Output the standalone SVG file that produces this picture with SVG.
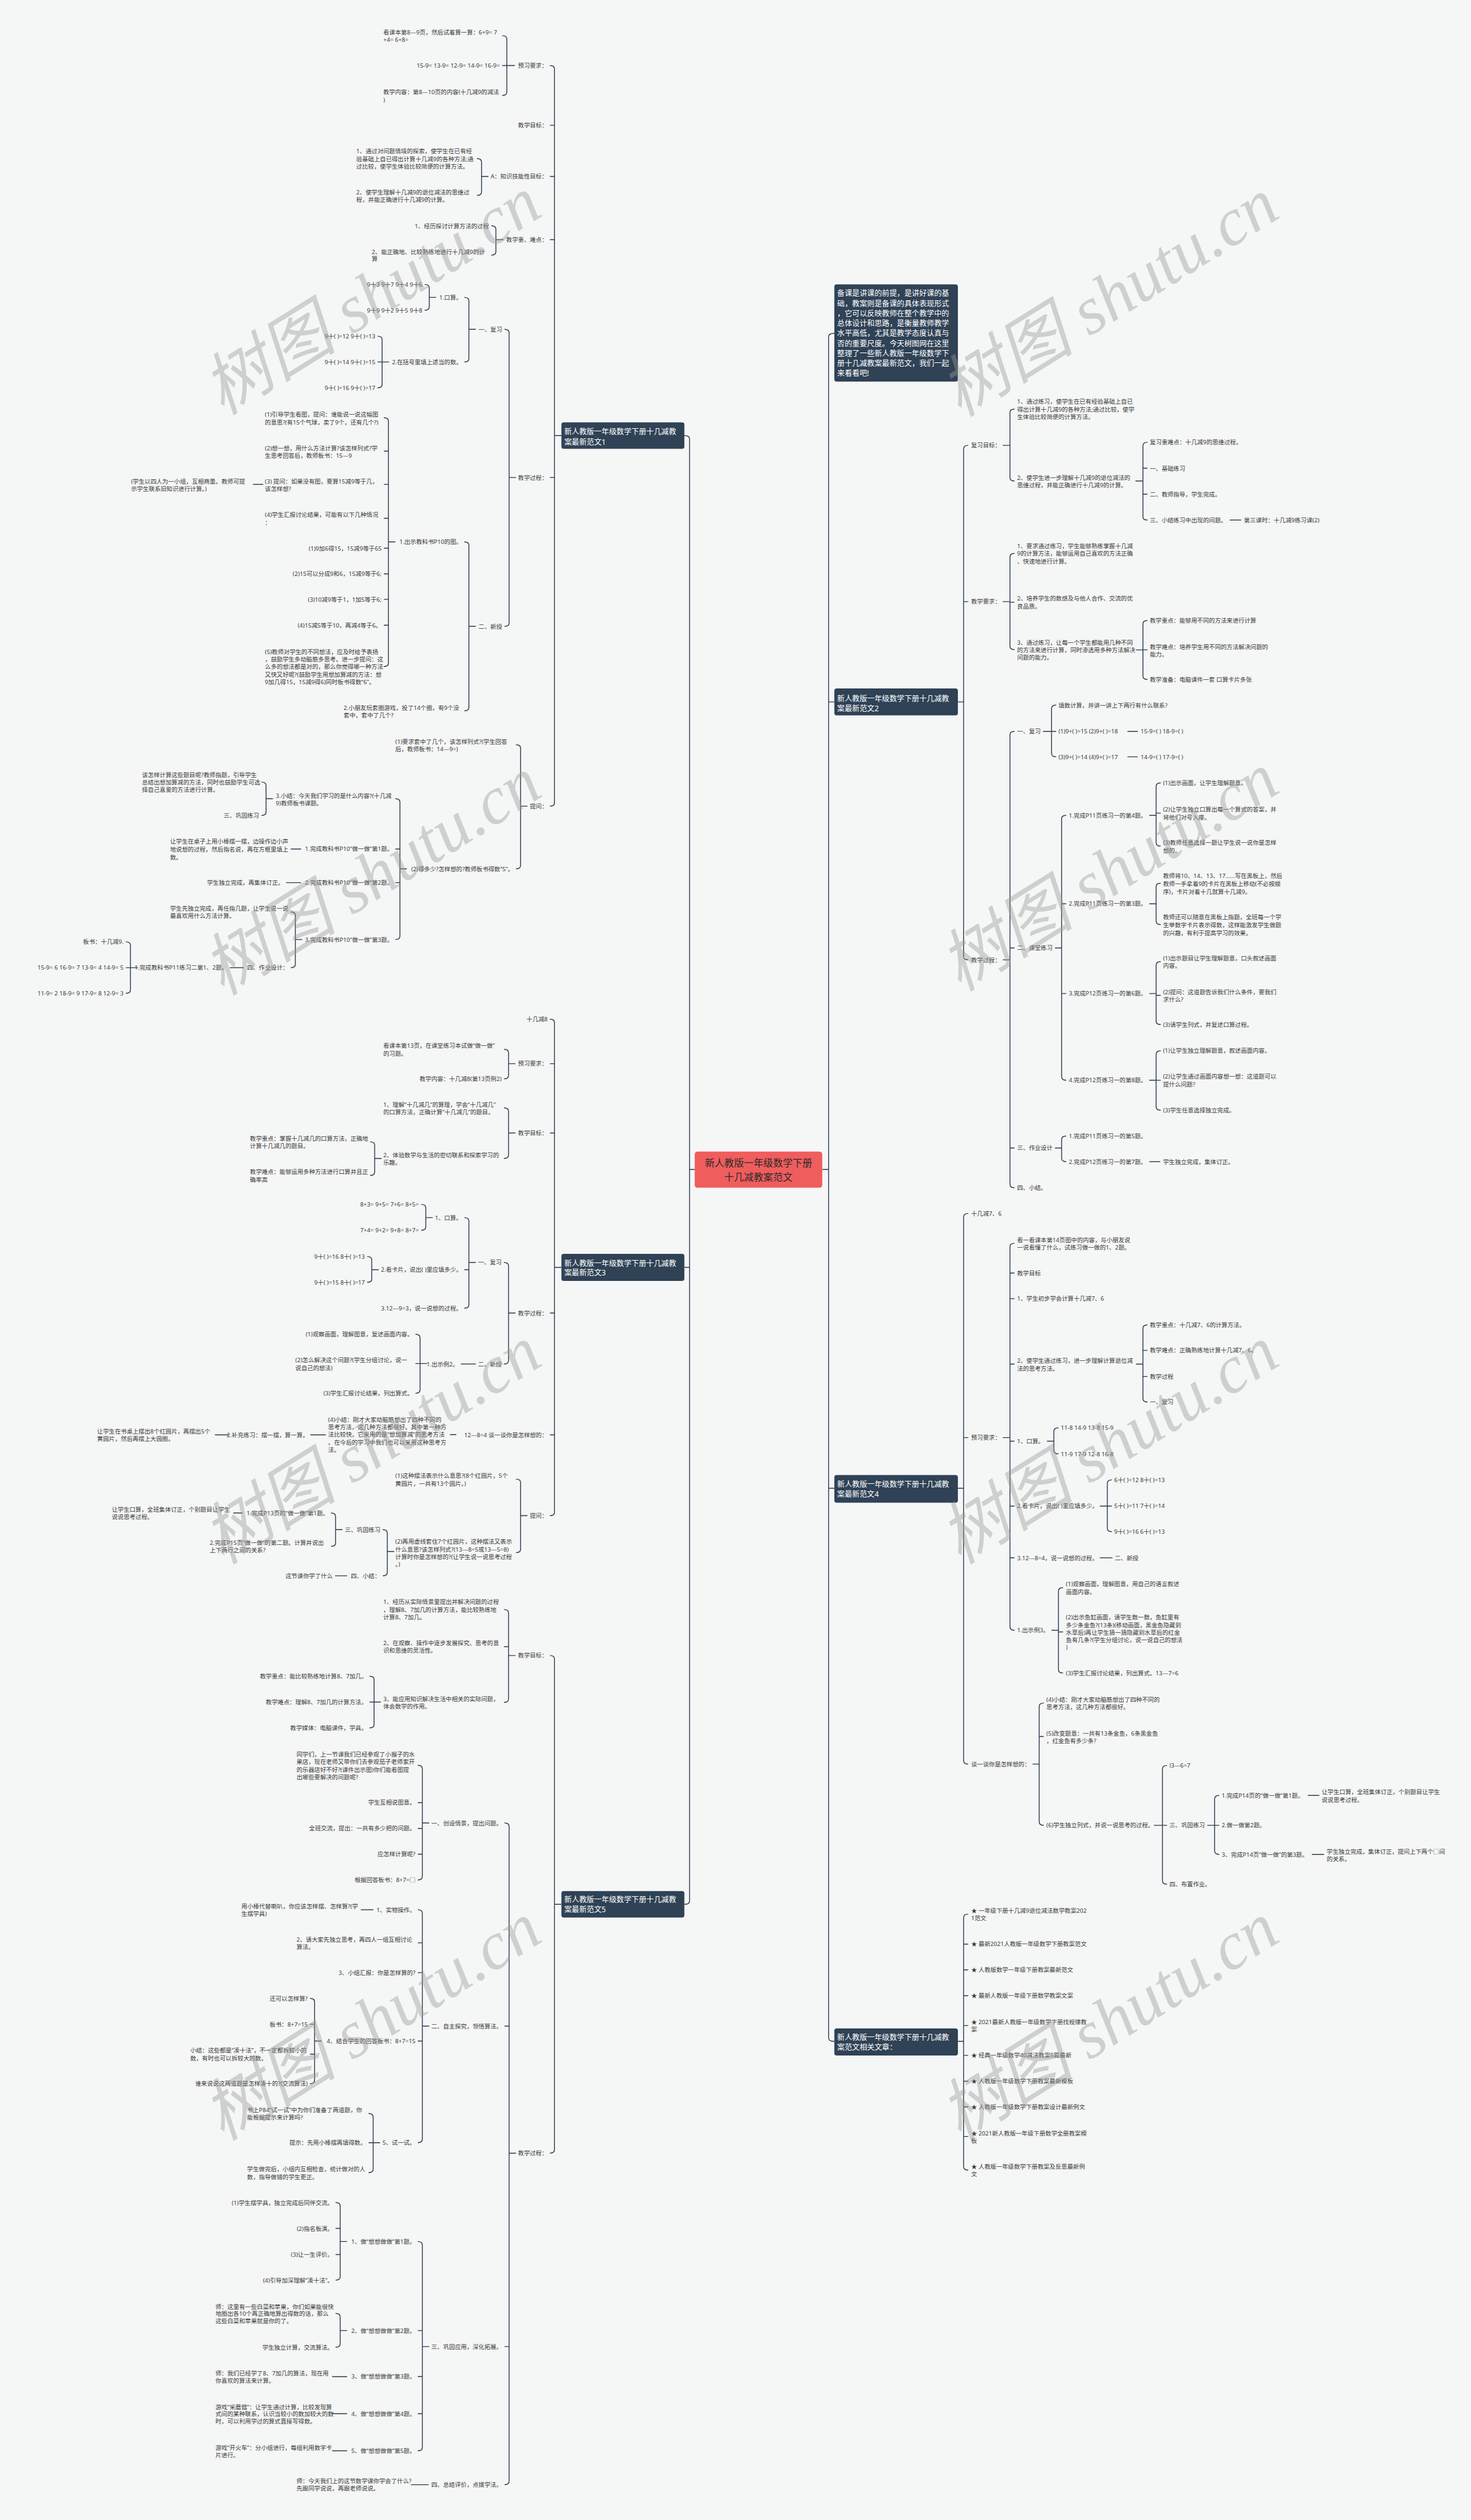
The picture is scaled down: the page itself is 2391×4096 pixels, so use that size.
<svg xmlns="http://www.w3.org/2000/svg" width="2391" height="4096" viewBox="0 0 2391 4096">
<style>
.t{font-family:"Noto Sans","Noto Sans CJK SC",sans-serif;font-size:10.3px;fill:#3a3a3a;dominant-baseline:central}
.e{text-anchor:end}
.b{fill:#2f4256}
.bt{font-family:"Noto Sans","Noto Sans CJK SC",sans-serif;font-size:13px;fill:#fff;dominant-baseline:central}
.ct{font-family:"Noto Sans","Noto Sans CJK SC",sans-serif;font-size:17px;fill:#2a2a2a;text-anchor:middle;dominant-baseline:central}
.l{fill:none;stroke:#2c3d4f;stroke-width:1.5}
.w{font-family:"Liberation Serif","Noto Sans CJK SC",serif;font-style:italic;font-size:118px;fill:#9a9a9a;opacity:.42;text-anchor:middle;dominant-baseline:central}
</style>
<rect width="2391" height="4096" fill="#f5f6f6"/>
<g transform="scale(0.934)">
<g id="connectors" class="l">
<path d="M1191 758 Q1200 758 1200 764 V3308 Q1200 3314 1191 3314 M1200 2205.5 H1191 M1200 2035 H1209"/>
<path d="M1452 580 Q1442 580 1442 586 V3546.5 Q1442 3552.5 1452 3552.5 M1442 1221.5 H1452 M1442 2590 H1452 M1442 2035 H1431"/>
<path d="M957 114 Q965 114 965 120 V1397 Q965 1403 957 1403 M965 218 H957 M965 307 H957 M965 417 H957 M965 831 H957 M965 758 H977"/>
<path d="M874 62 Q882 62 882 68 V160 Q882 166 874 166 M874 114 H896"/>
<path d="M830 276 Q838 276 838 282 V334 Q838 340 830 340 M838 307 H850"/>
<path d="M855 393 Q863 393 863 399 V438 Q863 444 855 444 M863 417 H876"/>
<path d="M878 573 Q886 573 886 579 V1084 Q886 1090 878 1090 M886 831 H898"/>
<path d="M808 517.5 Q816 517.5 816 523.5 V624 Q816 630 808 630 M816 573 H828"/>
<path d="M739 495 Q747 495 747 501 V534 Q747 540 739 540 M747 517.5 H759"/>
<path d="M657 585 Q665 585 665 591 V669 Q665 675 657 675 M657 630 H677"/>
<path d="M808 943 Q816 943 816 949 V1231 Q816 1237 808 1237 M816 1090 H828"/>
<path d="M668 727 Q676 727 676 733 V1154 Q676 1160 668 1160 M676 785 H668 M676 843 H668 M676 902 H668 M676 954 H668 M676 998.6 H668 M676 1043 H668 M676 1088 H668 M676 943 H688"/>
<path d="M440 843 H458"/>
<path d="M898 1296 Q906 1296 906 1302 V1506 Q906 1512 898 1512 M906 1403 H918"/>
<path d="M688 1390 Q696 1390 696 1396 V1629 Q696 1635 688 1635 M696 1477.5 H688 M696 1536 H688 M696 1512 H708"/>
<path d="M455 1361 Q463 1361 463 1367 V1413 Q463 1419 455 1419 M463 1390 H475"/>
<path d="M506 1477.5 H524 M498 1536 H524"/>
<path d="M506 1587 Q514 1587 514 1593 V1678 Q514 1684 506 1684 M514 1635 H526"/>
<path d="M400 1684 H424"/>
<path d="M219 1639 Q227 1639 227 1645 V1722.6 Q227 1728.6 219 1728.6 M219 1684 H240"/>
<path d="M957 1773.5 Q965 1773.5 965 1779.5 V2631.6 Q965 2637.6 957 2637.6 M965 1851 H957 M965 1971.6 H957 M965 2285 H957 M965 2497 H957 M965 2205.5 H977"/>
<path d="M877 1826 Q885 1826 885 1832 V1871.5 Q885 1877.5 877 1877.5 M885 1851 H897"/>
<path d="M877 1928 Q885 1928 885 1934 V2010 Q885 2016 877 2016 M885 1971.6 H897"/>
<path d="M644 1987 Q652 1987 652 1993 V2039.5 Q652 2045.5 644 2045.5 M652 2016 H664"/>
<path d="M877 2197 Q885 2197 885 2203 V2367.7 Q885 2373.7 877 2373.7 M885 2285 H897"/>
<path d="M808 2119 Q816 2119 816 2125 V2270.5 Q816 2276.5 808 2276.5 M816 2209.6 H808 M816 2197 H828"/>
<path d="M733 2096 Q741 2096 741 2102 V2135 Q741 2141 733 2141 M741 2119 H753"/>
<path d="M639 2186.7 Q647 2186.7 647 2192.7 V2225.6 Q647 2231.6 639 2231.6 M647 2209.6 H659"/>
<path d="M802 2373.7 H828"/>
<path d="M723 2322 Q731 2322 731 2328 V2418.7 Q731 2424.7 723 2424.7 M723 2373 H743"/>
<path d="M783 2496.5 H794 M540 2497 H567 M374 2497 H398"/>
<path d="M898 2574 Q906 2574 906 2580 V2696 Q906 2702 898 2702 M906 2637.6 H918"/>
<path d="M666 2662 Q674 2662 674 2668 V2736.4 Q674 2742.4 666 2742.4 M674 2700 H686"/>
<path d="M576 2633 Q584 2633 584 2639 V2685 Q584 2691 576 2691 M584 2662 H596"/>
<path d="M406 2633 H422 M583 2742.4 H604"/>
<path d="M957 2881 Q965 2881 965 2887 V3741 Q965 3747 957 3747 M965 3314 H977"/>
<path d="M877 2801 Q885 2801 885 2807 V2956.6 Q885 2962.6 877 2962.6 M885 2865.6 H877 M885 2881 H897"/>
<path d="M643 2917 Q651 2917 651 2923 V3001 Q651 3007 643 3007 M643 2962 H663"/>
<path d="M878 3172.4 Q886 3172.4 886 3178.4 V4318 Q886 4324 878 4324 M886 3526 H878 M886 4083.6 H878 M886 3747 H898"/>
<path d="M727 3072 Q735 3072 735 3078 V3265.6 Q735 3271.6 727 3271.6 M735 3137 H727 M735 3182 H727 M735 3226.7 H727 M735 3172.4 H747"/>
<path d="M727 3323.5 Q735 3323.5 735 3329.5 V3722.8 Q735 3728.8 727 3728.8 M735 3381 H727 M735 3433 H727 M735 3552 H727 M735 3526 H747"/>
<path d="M628 3323.5 H650"/>
<path d="M539.5 3477.8 Q547.5 3477.8 547.5 3483.8 V3620 Q547.5 3626 539.5 3626 M547.5 3522.6 H539.5 M547.5 3574.6 H539.5 M547.5 3552 H559.5"/>
<path d="M641.4 3678 Q649.4 3678 649.4 3684 V3775 Q649.4 3781 641.4 3781 M641.4 3728.8 H661.4"/>
<path d="M727 3900.8 Q735 3900.8 735 3906.8 V4259 Q735 4265 727 4265 M735 4055.8 H727 M735 4135.7 H727 M735 4200.5 H727 M735 4083.6 H747"/>
<path d="M584 3833 Q592 3833 592 3839 V3962 Q592 3968 584 3968 M592 3878 H584 M592 3923.5 H584 M592 3900.8 H604"/>
<path d="M584 4026 Q592 4026 592 4032 V4078.8 Q592 4084.8 584 4084.8 M592 4055.8 H604"/>
<path d="M578 4136 H604 M578 4200.5 H604 M578 4265 H604 M715 4324 H746"/>
<path d="M1685 775 Q1677 775 1677 781 V1664.4 Q1677 1670.4 1685 1670.4 M1677 1047 H1685 M1677 1221.5 H1667"/>
<path d="M1765.6 712 Q1757.6 712 1757.6 718 V831 Q1757.6 837 1765.6 837 M1757.6 775 H1745"/>
<path d="M1997 769.7 Q1989 769.7 1989 775.7 V899 Q1989 905 1997 905 M1989 814.8 H1997 M1989 860 H1997 M1989 837 H1976"/>
<path d="M2140 905 H2160"/>
<path d="M1765.6 963 Q1757.6 963 1757.6 969 V1124.5 Q1757.6 1130.5 1765.6 1130.5 M1757.6 1048 H1765.6 M1757.6 1047 H1745"/>
<path d="M1997 1079.7 Q1989 1079.7 1989 1085.7 V1176.5 Q1989 1182.5 1997 1182.5 M1977 1131 H1997"/>
<path d="M1765.6 1272.7 Q1757.6 1272.7 1757.6 1278.7 V2061 Q1757.6 2067 1765.6 2067 M1757.6 1649.6 H1765.6 M1757.6 1997.8 H1765.6 M1757.6 1670.4 H1745"/>
<path d="M1838 1227 Q1830 1227 1830 1233 V1311 Q1830 1317 1838 1317 M1815 1272.7 H1838"/>
<path d="M1962 1272.7 H1980 M1962 1317 H1980"/>
<path d="M1855.5 1418.9 Q1847.5 1418.9 1847.5 1424.9 V1873.8 Q1847.5 1879.8 1855.5 1879.8 M1847.5 1572.8 H1855.5 M1847.5 1729 H1855.5 M1847.5 1649.6 H1836"/>
<path d="M2020 1362.5 Q2012 1362.5 2012 1368.5 V1466.6 Q2012 1472.6 2020 1472.6 M2012 1415 H2020 M2012 1418.9 H2000"/>
<path d="M2020 1537 Q2012 1537 2012 1543 V1603 Q2012 1609 2020 1609 M2012 1572.8 H2000"/>
<path d="M2020 1673.5 Q2012 1673.5 2012 1679.5 V1777 Q2012 1783 2020 1783 M2012 1732 H2020 M2012 1729 H2000"/>
<path d="M2020 1828.7 Q2012 1828.7 2012 1834.7 V1926 Q2012 1932 2020 1932 M2012 1880 H2020 M2012 1879.8 H2000"/>
<path d="M1855.5 1977 Q1847.5 1977 1847.5 1983 V2015.6 Q1847.5 2021.6 1855.5 2021.6 M1847.5 1997.8 H1836"/>
<path d="M2000 2021.6 H2019"/>
<path d="M1685 2111.8 Q1677 2111.8 1677 2117.8 V3064 Q1677 3070 1685 3070 M1677 2501.7 H1685 M1677 2590 H1667"/>
<path d="M1765.6 2163.7 Q1757.6 2163.7 1757.6 2169.7 V2831 Q1757.6 2837 1765.6 2837 M1757.6 2215.5 H1765.6 M1757.6 2260 H1765.6 M1757.6 2374 H1765.6 M1757.6 2508 H1765.6 M1757.6 2621 H1765.6 M1757.6 2711 H1765.6 M1757.6 2501.7 H1745"/>
<path d="M1997 2305.7 Q1989 2305.7 1989 2311.7 V2434 Q1989 2440 1997 2440 M1989 2350 H1997 M1989 2395.5 H1997 M1989 2374 H1977"/>
<path d="M1842 2484.8 Q1834 2484.8 1834 2490.8 V2524 Q1834 2530 1842 2530 M1834 2508 H1822"/>
<path d="M1935 2575.4 Q1927 2575.4 1927 2581.4 V2659.6 Q1927 2665.6 1935 2665.6 M1914 2621 H1935"/>
<path d="M1914 2711 H1936"/>
<path d="M1850 2762.8 Q1842 2762.8 1842 2768.8 V2905.5 Q1842 2911.5 1850 2911.5 M1842 2840 H1850 M1842 2837 H1830"/>
<path d="M1816.5 2963.7 Q1808.5 2963.7 1808.5 2969.7 V3170.5 Q1808.5 3176.5 1816.5 3176.5 M1808.5 3022 H1816.5 M1808.5 3070 H1797"/>
<path d="M2031 3072.4 Q2023 3072.4 2023 3078.4 V3273 Q2023 3279 2031 3279 M2008 3176.5 H2031"/>
<path d="M2121.8 3124.4 Q2113.8 3124.4 2113.8 3130.4 V3221.2 Q2113.8 3227.2 2121.8 3227.2 M2101 3176.5 H2121.8"/>
<path d="M2276 3124.4 H2296 M2283 3227.2 H2304"/>
<path d="M1685 3331 Q1677 3331 1677 3337 V3770.5 Q1677 3776.5 1685 3776.5 M1677 3383.3 H1685 M1677 3428 H1685 M1677 3473 H1685 M1677 3525 H1685 M1677 3577 H1685 M1677 3621.8 H1685 M1677 3666.5 H1685 M1677 3718 H1685 M1677 3552.5 H1667"/>
</g>
<g id="center"><rect x="1209" y="2004" width="222" height="63" rx="5" fill="#f05d5d"/><text class="ct"><tspan x="1320" y="2024">新人教版一年级数学下册</tspan><tspan x="1320" y="2048">十几减教案范文</tspan></text></g>
<g id="intro"><rect class="b" x="1452" y="495" width="215" height="169" rx="4"/><text class="bt"><tspan x="1457" y="510">备课是讲课的前提，是讲好课的基</tspan><tspan x="1457" y="527.4">础，教案则是备课的具体表现形式</tspan><tspan x="1457" y="544.8">，它可以反映教师在整个教学中的</tspan><tspan x="1457" y="562.2">总体设计和思路，是衡量教师教学</tspan><tspan x="1457" y="579.6">水平高低，尤其是教学态度认真与</tspan><tspan x="1457" y="597">否的重要尺度。今天树图网在这里</tspan><tspan x="1457" y="614.4">整理了一些新人教版一年级数学下</tspan><tspan x="1457" y="631.8">册十几减教案最新范文，我们一起</tspan><tspan x="1457" y="649.2">来看看吧!</tspan></text></g>
<g id="r1"><rect class="b" x="977" y="735" width="214" height="46" rx="4"/><text class="bt"><tspan x="982" y="750.4">新人教版一年级数学下册十几减教</tspan><tspan x="982" y="768.8">案最新范文1</tspan></text></g>
<g id="a1"><text class="t e" x="953" y="114">预习要求：</text></g>
<g id="a2"><text class="t"><tspan x="667" y="56">看课本第8—9页，然后试着算一算：6+9= 7</tspan><tspan x="667" y="69">+4= 6+8=</tspan></text></g>
<g id="a3"><text class="t e" x="870" y="114">15-9= 13-9= 12-9= 14-9= 16-9=</text></g>
<g id="a4"><text class="t"><tspan x="667" y="160">教学内容：第8—10页的内容(十几减9的减法</tspan><tspan x="667" y="173">)</tspan></text></g>
<g id="a5"><text class="t e" x="953" y="218">教学目标：</text></g>
<g id="a6"><text class="t e" x="953" y="307">A：知识技能性目标：</text></g>
<g id="a7"><text class="t"><tspan x="620" y="262">1、通过对问题情境的探索，使学生在已有经</tspan><tspan x="620" y="276">验基础上自已得出计算十几减9的各种方法;通</tspan><tspan x="620" y="289">过比较，使学生体验比较简便的计算方法。</tspan></text></g>
<g id="a8"><text class="t"><tspan x="620" y="334">2、使学生理解十几减9的退位减法的思维过</tspan><tspan x="620" y="347">程，并能正确进行十几减9的计算。</tspan></text></g>
<g id="a9"><text class="t e" x="953" y="417">教学重、难点：</text></g>
<g id="a10"><text class="t e" x="851" y="393">1、经历探讨计算方法的过程</text></g>
<g id="a11"><text class="t"><tspan x="647" y="438">2、能正确地、比较熟练地进行十几减9的计</tspan><tspan x="647" y="450">算</tspan></text></g>
<g id="a12"><text class="t e" x="953" y="831">教学过程：</text></g>
<g id="a13"><text class="t e" x="874" y="573">一、复习</text></g>
<g id="a14"><text class="t e" x="804" y="517.5">1.口算。</text></g>
<g id="a15"><text class="t e" x="735" y="495">9十3 9十7 9十4 9十6</text></g>
<g id="a16"><text class="t e" x="735" y="540">9十9 9十2 9十5 9十8</text></g>
<g id="a17"><text class="t e" x="804" y="630">2.在括号里填上适当的数。</text></g>
<g id="a18"><text class="t e" x="653" y="585">9十( )=12 9十( )=13</text></g>
<g id="a19"><text class="t e" x="653" y="630">9十( )=14 9十( )=15</text></g>
<g id="a20"><text class="t e" x="653" y="675">9十( )=16 9十( )=17</text></g>
<g id="a21"><text class="t e" x="874" y="1090">二、新授</text></g>
<g id="a22"><text class="t e" x="804" y="943">1.出示教科书P10的图。</text></g>
<g id="a23"><text class="t"><tspan x="461" y="720.6">(1)引导学生看图，提问：谁能说一说这幅图</tspan><tspan x="461" y="734">的意思?(有15个气球，卖了9个，还有几个?)</tspan></text></g>
<g id="a24"><text class="t"><tspan x="461" y="779">(2)想一想，用什么方法计算?该怎样列式?学</tspan><tspan x="461" y="792">生思考回答后，教师板书：15—9</tspan></text></g>
<g id="a25"><text class="t"><tspan x="461" y="837">(3) 提问：如果没有图，要算15减9等于几，</tspan><tspan x="461" y="850">该怎样想?</tspan></text></g>
<g id="a26"><text class="t"><tspan x="228" y="837">(学生以四人为一小组，互相商量。教师可提</tspan><tspan x="228" y="850">示学生联系旧知识进行计算。)</tspan></text></g>
<g id="a27"><text class="t"><tspan x="461" y="895">(4)学生汇报讨论结果，可能有以下几种情况</tspan><tspan x="461" y="909">：</tspan></text></g>
<g id="a28"><text class="t e" x="664" y="954">(1)9加6得15，15减9等于65</text></g>
<g id="a29"><text class="t e" x="664" y="998.6">(2)15可以分成9和6，15减9等于6;</text></g>
<g id="a30"><text class="t e" x="664" y="1043">(3)10减9等于1，1加5等于6;</text></g>
<g id="a31"><text class="t e" x="664" y="1088">(4)15减5等于10，再减4等于6。</text></g>
<g id="a32"><text class="t"><tspan x="461" y="1134">(5)教师对学生的不同想法，应及时给予表扬</tspan><tspan x="461" y="1147">，鼓励学生多动脑筋多思考。进一步提问：这</tspan><tspan x="461" y="1160">么多的想法都是对的，那么你觉得哪一种方法</tspan><tspan x="461" y="1173">又快又好呢?(鼓励学生用想加算减的方法：想</tspan><tspan x="461" y="1186">9加几得15，15减9得6)同时板书得数“6”。</tspan></text></g>
<g id="a33"><text class="t"><tspan x="598" y="1231">2.小朋友玩套圈游戏，投了14个圈，有9个没</tspan><tspan x="598" y="1244">套中，套中了几个?</tspan></text></g>
<g id="a34"><text class="t e" x="953" y="1403">提问：</text></g>
<g id="a35"><text class="t"><tspan x="688" y="1290">(1)要求套中了几个，该怎样列式?(学生回答</tspan><tspan x="688" y="1303">后，教师板书：14—9=)</tspan></text></g>
<g id="a36"><text class="t e" x="894" y="1512">(2)得多少?怎样想的?教师板书得数“5”。</text></g>
<g id="a37"><text class="t"><tspan x="480" y="1384">3.小结：今天我们学习的是什么内容?(十几减</tspan><tspan x="480" y="1397">9)教师板书课题。</tspan></text></g>
<g id="a38"><text class="t"><tspan x="247" y="1348">该怎样计算这些题目呢?教师指题，引导学生</tspan><tspan x="247" y="1361">总结出想加算减的方法，同时也鼓励学生可选</tspan><tspan x="247" y="1374">择自己喜爱的方法进行计算。</tspan></text></g>
<g id="a39"><text class="t e" x="451" y="1419">三、巩固练习</text></g>
<g id="a40"><text class="t e" x="684" y="1477.5">1.完成教科书P10“做一做”第1题。</text></g>
<g id="a41"><text class="t"><tspan x="296" y="1464">让学生在桌子上用小棒摆一摆，边操作边小声</tspan><tspan x="296" y="1477.5">地说想的过程，然后指名说，再在方框里填上</tspan><tspan x="296" y="1491">数。</tspan></text></g>
<g id="a42"><text class="t e" x="684" y="1536">2.完成教科书P10“做一做”第2题。</text></g>
<g id="a43"><text class="t e" x="494" y="1536">学生独立完成，再集体订正。</text></g>
<g id="a44"><text class="t e" x="684" y="1635">3.完成教科书P10“做一做”第3题。</text></g>
<g id="a45"><text class="t"><tspan x="296" y="1580">学生先独立完成，再任指几题，让学生说一说</tspan><tspan x="296" y="1593">最喜欢用什么方法计算。</tspan></text></g>
<g id="a46"><text class="t e" x="502" y="1684">四、作业设计：</text></g>
<g id="a47"><text class="t e" x="396" y="1684">1.完成教科书P11练习二第1、2题。</text></g>
<g id="a48"><text class="t e" x="215" y="1639">板书：十几减9.</text></g>
<g id="a49"><text class="t e" x="215" y="1684">15-9= 6 16-9= 7 13-9= 4 14-9= 5</text></g>
<g id="a50"><text class="t e" x="215" y="1728.6">11-9= 2 18-9= 9 17-9= 8 12-9= 3</text></g>
<g id="r3"><rect class="b" x="977" y="2182" width="214" height="47" rx="4"/><text class="bt"><tspan x="982" y="2198">新人教版一年级数学下册十几减教</tspan><tspan x="982" y="2214.5">案最新范文3</tspan></text></g>
<g id="c1"><text class="t e" x="953" y="1773.5">十几减8</text></g>
<g id="c2"><text class="t e" x="953" y="1851">预习要求：</text></g>
<g id="c3"><text class="t"><tspan x="667" y="1819">看课本第13页，在课堂练习本试做“做一做”</tspan><tspan x="667" y="1833">的习题。</tspan></text></g>
<g id="c4"><text class="t e" x="873" y="1877.5">教学内容：十几减8(第13页例2)</text></g>
<g id="c5"><text class="t e" x="953" y="1971.6">教学目标：</text></g>
<g id="c6"><text class="t"><tspan x="667" y="1922">1、理解“十几减几”的算理，学会“十几减几”</tspan><tspan x="667" y="1935">的口算方法，正确计算“十几减几”的题目。</tspan></text></g>
<g id="c7"><text class="t"><tspan x="667" y="2009.6">2、体验数学与生活的密切联系和探索学习的</tspan><tspan x="667" y="2022.7">乐趣。</tspan></text></g>
<g id="c8"><text class="t"><tspan x="435" y="1980.6">教学重点：掌握十几减几的口算方法，正确地</tspan><tspan x="435" y="1993.7">计算十几减几的题目。</tspan></text></g>
<g id="c9"><text class="t"><tspan x="435" y="2039">教学难点：能够运用多种方法进行口算并且正</tspan><tspan x="435" y="2052">确率高</tspan></text></g>
<g id="c10"><text class="t e" x="953" y="2285">教学过程：</text></g>
<g id="c11"><text class="t e" x="873" y="2197">一、复习</text></g>
<g id="c12"><text class="t e" x="804" y="2119">1、口算。</text></g>
<g id="c13"><text class="t e" x="729" y="2096">8+3= 9+5= 7+6= 8+5=</text></g>
<g id="c14"><text class="t e" x="729" y="2141">7+4= 9+2= 9+8= 8+7=</text></g>
<g id="c15"><text class="t e" x="804" y="2209.6">2.看卡片，说出( )里应填多少。</text></g>
<g id="c16"><text class="t e" x="635" y="2186.7">9十( )=16 8十( )=13</text></g>
<g id="c17"><text class="t e" x="635" y="2231.6">9十( )=15 8十( )=17</text></g>
<g id="c18"><text class="t e" x="804" y="2276.5">3.12—9=3，说一说想的过程。</text></g>
<g id="c19"><text class="t e" x="873" y="2373.7">二、新授</text></g>
<g id="c20"><text class="t e" x="798" y="2373.7">1.出示例2。</text></g>
<g id="c21"><text class="t e" x="719" y="2322">(1)观察画面，理解图意，复述画面内容。</text></g>
<g id="c22"><text class="t"><tspan x="514" y="2366.7">(2)怎么解决这个问题?(学生分组讨论，说一</tspan><tspan x="514" y="2379.8">说自己的想法)</tspan></text></g>
<g id="c23"><text class="t e" x="719" y="2424.7">(3)学生汇报讨论结果，列出算式。</text></g>
<g id="c24"><text class="t e" x="953" y="2497">12—8=4 谈一谈你是怎样想的：</text></g>
<g id="c25"><text class="t"><tspan x="571" y="2469.6">(4)小结：刚才大家动脑筋想出了四种不同的</tspan><tspan x="571" y="2483">思考方法，这几种方法都很好。其中第一种方</tspan><tspan x="571" y="2496">法比较快，它采用的是“想加算减”的思考方法</tspan><tspan x="571" y="2509.6">。在今后的学习中我们也可以采用这种思考方</tspan><tspan x="571" y="2522.7">法。</tspan></text></g>
<g id="c26"><text class="t e" x="537" y="2497">2.补充练习：摆一摆，算一算。</text></g>
<g id="c27"><text class="t"><tspan x="169" y="2490">让学生在书桌上摆出8个红圆片，再摆出5个</tspan><tspan x="169" y="2503">黄圆片，然后再摆上大圆圈。</tspan></text></g>
<g id="c28"><text class="t e" x="953" y="2637.6">提问：</text></g>
<g id="c29"><text class="t"><tspan x="688" y="2567.8">(1)这种摆法表示什么意思?(8个红圆片，5个</tspan><tspan x="688" y="2581">黄圆片，一共有13个圆片。)</tspan></text></g>
<g id="c30"><text class="t"><tspan x="688" y="2682">(2)再用虚线套住7个红圆片，这种摆法又表示</tspan><tspan x="688" y="2695.5">什么意思?该怎样列式?(13—8=5或13—5=8)</tspan><tspan x="688" y="2708.6">计算时你是怎样想的?(让学生说一说思考过程</tspan><tspan x="688" y="2721.6">。)</tspan></text></g>
<g id="c31"><text class="t e" x="662" y="2662">三、巩固练习</text></g>
<g id="c32"><text class="t e" x="572" y="2633">1.完成P13页的“做一做”第1题。</text></g>
<g id="c33"><text class="t"><tspan x="194.5" y="2626">让学生口算，全班集体订正，个别题目让学生</tspan><tspan x="194.5" y="2639.6">说说思考过程。</tspan></text></g>
<g id="c34"><text class="t"><tspan x="365" y="2684">2.完成P15页“做一做”的第二题。计算并说出</tspan><tspan x="365" y="2697.5">上下两行之间的关系?</tspan></text></g>
<g id="c35"><text class="t e" x="662" y="2742.4">四、小结：</text></g>
<g id="c36"><text class="t e" x="579" y="2742.4">这节课你学了什么</text></g>
<g id="r5"><rect class="b" x="977" y="3291" width="214" height="46" rx="4"/><text class="bt"><tspan x="982" y="3305">新人教版一年级数学下册十几减教</tspan><tspan x="982" y="3322.6">案最新范文5</tspan></text></g>
<g id="e1"><text class="t e" x="953" y="2881">教学目标：</text></g>
<g id="e2"><text class="t"><tspan x="667" y="2787">1、经历从实际情景里提出并解决问题的过程</tspan><tspan x="667" y="2801">，理解8、7加几的计算方法，能比较熟练地</tspan><tspan x="667" y="2814">计算8、7加几。</tspan></text></g>
<g id="e3"><text class="t"><tspan x="667" y="2859">2、在观察、操作中逐步发展探究、思考的意</tspan><tspan x="667" y="2872">识和思维的灵活性。</tspan></text></g>
<g id="e4"><text class="t"><tspan x="667" y="2956">3、能应用知识解决生活中相关的实际问题，</tspan><tspan x="667" y="2969">体会数学的作用。</tspan></text></g>
<g id="e5"><text class="t e" x="639" y="2917">教学重点：能比较熟练地计算8、7加几。</text></g>
<g id="e6"><text class="t e" x="639" y="2962">教学难点：理解8、7加几的计算方法。</text></g>
<g id="e7"><text class="t e" x="639" y="3007">教学媒体：电脑课件，学具。</text></g>
<g id="e8"><text class="t e" x="953" y="3747">教学过程：</text></g>
<g id="e9"><text class="t e" x="874" y="3172.4">一、创设情景，提出问题。</text></g>
<g id="e10"><text class="t"><tspan x="516" y="3052.7">同学们，上一节课我们已经参观了小猴子的水</tspan><tspan x="516" y="3065.7">果店，现在老师又带你们去参观茄子老师家开</tspan><tspan x="516" y="3078.8">的乐器店好不好?(课件出示图)你们能看图提</tspan><tspan x="516" y="3091.8">出哪些要解决的问题呢?</tspan></text></g>
<g id="e11"><text class="t e" x="723" y="3137">学生互相说图意。</text></g>
<g id="e12"><text class="t e" x="723" y="3182">全班交流，提出：一共有多少把的问题。</text></g>
<g id="e13"><text class="t e" x="723" y="3226.7">应怎样计算呢?</text></g>
<g id="e14"><text class="t e" x="723" y="3271.6">根据回答板书：8+7=□</text></g>
<g id="e15"><text class="t e" x="874" y="3526">二、自主探究，领悟算法。</text></g>
<g id="e16"><text class="t e" x="723" y="3323.5">1、实物操作。</text></g>
<g id="e17"><text class="t"><tspan x="420" y="3316.5">用小棒代替喇叭，你应该怎样摆、怎样算?(学</tspan><tspan x="420" y="3329.6">生摆学具)</tspan></text></g>
<g id="e18"><text class="t"><tspan x="516" y="3374.5">2、请大家先独立思考，再四人一组互相讨论</tspan><tspan x="516" y="3387.6">算法。</tspan></text></g>
<g id="e19"><text class="t e" x="723" y="3433">3、小组汇报：你是怎样算的?</text></g>
<g id="e20"><text class="t e" x="723" y="3552">4、结合学生的回答板书：8+7=15</text></g>
<g id="e21"><text class="t e" x="535.5" y="3477.8">还可以怎样算?</text></g>
<g id="e22"><text class="t e" x="535.5" y="3522.6">板书：8+7=15</text></g>
<g id="e23"><text class="t"><tspan x="331" y="3568">小结：这些都是“凑十法”，不一定都拆较小的</tspan><tspan x="331" y="3581">数，有时也可以拆较大的数。</tspan></text></g>
<g id="e24"><text class="t e" x="535.5" y="3626">谁来说说这两道题是怎样凑十的?(交流算法)</text></g>
<g id="e25"><text class="t e" x="723" y="3728.8">5、试一试。</text></g>
<g id="e26"><text class="t"><tspan x="430" y="3671.6">书上P84“试一试”中为你们准备了两道题，你</tspan><tspan x="430" y="3684.7">能根据提示来计算吗?</tspan></text></g>
<g id="e27"><text class="t e" x="637.4" y="3728.8">提示：先用小棒摆再填得数。</text></g>
<g id="e28"><text class="t"><tspan x="430" y="3774.5">学生做完后，小组内互相检查，统计做对的人</tspan><tspan x="430" y="3787.7">数，指导做错的学生更正。</tspan></text></g>
<g id="e29"><text class="t e" x="874" y="4083.6">三、巩固应用，深化拓展。</text></g>
<g id="e30"><text class="t e" x="723" y="3900.8">1、做“想想做做”第1题。</text></g>
<g id="e31"><text class="t e" x="580" y="3833">(1)学生摆学具，独立完成后同伴交流。</text></g>
<g id="e32"><text class="t e" x="580" y="3878">(2)指名板演。</text></g>
<g id="e33"><text class="t e" x="580" y="3923.5">(3)让一生评价。</text></g>
<g id="e34"><text class="t e" x="580" y="3968">(4)引导加深理解“凑十法”。</text></g>
<g id="e35"><text class="t e" x="723" y="4055.8">2、做“想想做做”第2题。</text></g>
<g id="e36"><text class="t"><tspan x="375" y="4013.4">师：这里有一些白菜和苹果，你们如果能很快</tspan><tspan x="375" y="4026">地圈出各10个再正确地算出得数的话，那么</tspan><tspan x="375" y="4038.5">这些白菜和苹果就是你的了。</tspan></text></g>
<g id="e37"><text class="t e" x="580" y="4084.8">学生独立计算，交流算法。</text></g>
<g id="e38"><text class="t e" x="723" y="4135.7">3、做“想想做做”第3题。</text></g>
<g id="e39"><text class="t"><tspan x="375" y="4130">师：我们已经学了8、7加几的算法，现在用</tspan><tspan x="375" y="4142.6">你喜欢的算法来计算。</tspan></text></g>
<g id="e40"><text class="t e" x="723" y="4200.5">4、做“想想做做”第4题。</text></g>
<g id="e41"><text class="t"><tspan x="375" y="4188">游戏“采蘑菇”：让学生通过计算，比较发现算</tspan><tspan x="375" y="4200.5">式间的某种联系，认识当较小的数加较大的数</tspan><tspan x="375" y="4213">时，可以利用学过的算式直接写得数。</tspan></text></g>
<g id="e42"><text class="t e" x="723" y="4265">5、做“想想做做”第5题。</text></g>
<g id="e43"><text class="t"><tspan x="375" y="4259.5">游戏“开火车”：分小组进行，每组利用数字卡</tspan><tspan x="375" y="4272">片进行。</tspan></text></g>
<g id="e44"><text class="t e" x="874" y="4324">四、总结评价，点拨学法。</text></g>
<g id="e45"><text class="t"><tspan x="516" y="4317.4">师：今天我们上的这节数学课你学会了什么?</tspan><tspan x="516" y="4329.8">先跟同学说说，再跟老师说说。</tspan></text></g>
<g id="r2"><rect class="b" x="1452" y="1198" width="215" height="47" rx="4"/><text class="bt"><tspan x="1457" y="1215">新人教版一年级数学下册十几减教</tspan><tspan x="1457" y="1232.4">案最新范文2</tspan></text></g>
<g id="f1"><text class="t" x="1690" y="775">复习目标：</text></g>
<g id="f2"><text class="t"><tspan x="1770" y="698">1、通过练习，使学生在已有经验基础上自已</tspan><tspan x="1770" y="712">得出计算十几减9的各种方法;通过比较，使学</tspan><tspan x="1770" y="725">生体验比较简便的计算方法。</tspan></text></g>
<g id="f3"><text class="t"><tspan x="1770" y="830.4">2、使学生进一步理解十几减9的退位减法的</tspan><tspan x="1770" y="844">思维过程，并能正确进行十几减9的计算。</tspan></text></g>
<g id="f4"><text class="t" x="2001" y="769.7">复习重难点：十几减9的思维过程。</text></g>
<g id="f5"><text class="t" x="2001" y="814.8">一、基础练习</text></g>
<g id="f6"><text class="t" x="2001" y="860">二、教师指导，学生完成。</text></g>
<g id="f7"><text class="t" x="2001" y="905">三、小结练习中出现的问题。</text></g>
<g id="f8"><text class="t" x="2165" y="905">第三课时：十几减9练习课(2)</text></g>
<g id="f9"><text class="t" x="1690" y="1047">教学要求：</text></g>
<g id="f10"><text class="t"><tspan x="1770" y="949.7">1、要求通过练习，学生能够熟练掌握十几减</tspan><tspan x="1770" y="962.6">9的计算方法，能够运用自己喜欢的方法正确</tspan><tspan x="1770" y="976.5">、快速地进行计算。</tspan></text></g>
<g id="f11"><text class="t"><tspan x="1770" y="1041">2、培养学生的数感及与他人合作、交流的优</tspan><tspan x="1770" y="1055">良品质。</tspan></text></g>
<g id="f12"><text class="t"><tspan x="1770" y="1117.5">3、通过练习，让每一个学生都能用几种不同</tspan><tspan x="1770" y="1130.5">的方法来进行计算，同时渗透用多种方法解决</tspan><tspan x="1770" y="1144">问题的能力。</tspan></text></g>
<g id="f13"><text class="t" x="2001" y="1079.7">教学重点：能够用不同的方法来进行计算</text></g>
<g id="f14"><text class="t"><tspan x="2001" y="1124.8">教学难点：培养学生用不同的方法解决问题的</tspan><tspan x="2001" y="1138.3">能力。</tspan></text></g>
<g id="f15"><text class="t" x="2001" y="1182.5">教学准备：电脑课件一套 口算卡片多张</text></g>
<g id="f16"><text class="t" x="1690" y="1670.4">教学过程：</text></g>
<g id="f17"><text class="t" x="1770" y="1272.7">一、复习</text></g>
<g id="f18"><text class="t" x="1842" y="1227">填数计算，并讲一讲上下两行有什么联系?</text></g>
<g id="f19"><text class="t" x="1842" y="1272.7">(1)9+( )=15 (2)9+( )=18</text></g>
<g id="f20"><text class="t" x="1985" y="1272.7">15-9=( ) 18-9=( )</text></g>
<g id="f21"><text class="t" x="1842" y="1317">(3)9+( )=14 (4)9+( )=17</text></g>
<g id="f22"><text class="t" x="1985" y="1317">14-9=( ) 17-9=( )</text></g>
<g id="f23"><text class="t" x="1770" y="1649.6">二、课堂练习</text></g>
<g id="f24"><text class="t" x="1860" y="1418.9">1.完成P11页练习一的第4题。</text></g>
<g id="f25"><text class="t" x="2024" y="1362.5">(1)出示画面，让学生理解题意。</text></g>
<g id="f26"><text class="t"><tspan x="2024" y="1408">(2)让学生独立口算出每一个算式的答案，并</tspan><tspan x="2024" y="1422">将他们对号入座。</tspan></text></g>
<g id="f27"><text class="t"><tspan x="2024" y="1465.7">(3)教师任意选择一题让学生说一说你是怎样</tspan><tspan x="2024" y="1479.6">想的。</tspan></text></g>
<g id="f28"><text class="t" x="1860" y="1572.8">2.完成P11页练习一的第3题。</text></g>
<g id="f29"><text class="t"><tspan x="2024" y="1523.8">教师将10、14、13、17……写在黑板上，然后</tspan><tspan x="2024" y="1537.3">教师一手拿着9的卡片在黑板上移动(不必按顺</tspan><tspan x="2024" y="1551">序)，卡片对着十几就算十几减9。</tspan></text></g>
<g id="f30"><text class="t"><tspan x="2024" y="1595.4">教师还可以随意在黑板上指题，全班每一个学</tspan><tspan x="2024" y="1608.8">生举数字卡片表示得数，这样能激发学生做题</tspan><tspan x="2024" y="1622.7">的兴趣，有利于提高学习的效果。</tspan></text></g>
<g id="f31"><text class="t" x="1860" y="1729">3.完成P12页练习一的第6题。</text></g>
<g id="f32"><text class="t"><tspan x="2024" y="1667">(1)出示题目让学生理解题意，口头叙述画面</tspan><tspan x="2024" y="1680">内容。</tspan></text></g>
<g id="f33"><text class="t"><tspan x="2024" y="1725.5">(2)提问：这道题告诉我们什么条件，要我们</tspan><tspan x="2024" y="1738.5">求什么?</tspan></text></g>
<g id="f34"><text class="t" x="2024" y="1783">(3)请学生列式，并复述口算过程。</text></g>
<g id="f35"><text class="t" x="1860" y="1879.8">4.完成P12页练习一的第8题。</text></g>
<g id="f36"><text class="t" x="2024" y="1828.7">(1)让学生独立理解题意，叙述画面内容。</text></g>
<g id="f37"><text class="t"><tspan x="2024" y="1873">(2)让学生通过画面内容想一想：这道题可以</tspan><tspan x="2024" y="1887">提什么问题?</tspan></text></g>
<g id="f38"><text class="t" x="2024" y="1932">(3)学生任意选择独立完成。</text></g>
<g id="f39"><text class="t" x="1770" y="1997.8">三、作业设计</text></g>
<g id="f40"><text class="t" x="1860" y="1977">1.完成P11页练习一的第5题。</text></g>
<g id="f41"><text class="t" x="1860" y="2021.6">2.完成P12页练习一的第7题。</text></g>
<g id="f42"><text class="t" x="2024" y="2021.6">学生独立完成，集体订正。</text></g>
<g id="f43"><text class="t" x="1770" y="2067">四、小结。</text></g>
<g id="r4"><rect class="b" x="1452" y="2567" width="215" height="48" rx="4"/><text class="bt"><tspan x="1457" y="2582.4">新人教版一年级数学下册十几减教</tspan><tspan x="1457" y="2599.7">案最新范文4</tspan></text></g>
<g id="g1"><text class="t" x="1690" y="2111.8">十几减7、6</text></g>
<g id="g2"><text class="t" x="1690" y="2501.7">预习要求：</text></g>
<g id="g3"><text class="t"><tspan x="1770" y="2157">看一看课本第14页图中的内容，与小朋友说</tspan><tspan x="1770" y="2170.4">一说看懂了什么，试练习做一做的1、2题。</tspan></text></g>
<g id="g4"><text class="t" x="1770" y="2215.5">教学目标</text></g>
<g id="g5"><text class="t" x="1770" y="2260">1、学生初步学会计算十几减7、6</text></g>
<g id="g6"><text class="t"><tspan x="1770" y="2367">2、使学生通过练习，进一步理解计算退位减</tspan><tspan x="1770" y="2380.7">法的思考方法。</tspan></text></g>
<g id="g7"><text class="t" x="2001" y="2305.7">教学重点：十几减7、6的计算方法。</text></g>
<g id="g8"><text class="t" x="2001" y="2350">教学难点：正确熟练地计算十几减7、6。</text></g>
<g id="g9"><text class="t" x="2001" y="2395.5">教学过程</text></g>
<g id="g10"><text class="t" x="2001" y="2440">一、复习</text></g>
<g id="g11"><text class="t" x="1770" y="2508">1、口算。</text></g>
<g id="g12"><text class="t" x="1846" y="2484.8">11-8 14-9 13-8 15-9</text></g>
<g id="g13"><text class="t" x="1846" y="2530">11-9 17-9 12-8 16-8</text></g>
<g id="g14"><text class="t" x="1770" y="2621">2.看卡片，说出( )里应填多少。</text></g>
<g id="g15"><text class="t" x="1939" y="2575.4">6十( )=12 8十( )=13</text></g>
<g id="g16"><text class="t" x="1939" y="2621">5十( )=11 7十( )=14</text></g>
<g id="g17"><text class="t" x="1939" y="2665.6">9十( )=16 6十( )=13</text></g>
<g id="g18"><text class="t" x="1770" y="2711">3.12—8=4，说一说想的过程。</text></g>
<g id="g19"><text class="t" x="1940" y="2711">二、新授</text></g>
<g id="g20"><text class="t" x="1770" y="2837">1.出示例3。</text></g>
<g id="g21"><text class="t"><tspan x="1855" y="2756">(1)观察画面，理解图意，用自己的语言叙述</tspan><tspan x="1855" y="2769.7">画面内容。</tspan></text></g>
<g id="g22"><text class="t"><tspan x="1855" y="2814">(2)出示鱼缸画面，请学生数一数，鱼缸里有</tspan><tspan x="1855" y="2827.4">多少条金鱼?(13条)(移动画面，黑金鱼隐藏到</tspan><tspan x="1855" y="2840.4">水草后)再让学生猜一猜隐藏到水草后的红金</tspan><tspan x="1855" y="2853.4">鱼有几条?(学生分组讨论，说一说自己的想法</tspan><tspan x="1855" y="2866.4">)</tspan></text></g>
<g id="g23"><text class="t" x="1855" y="2911.5">(3)学生汇报讨论结果，列出算式。13—7=6</text></g>
<g id="g24"><text class="t" x="1690" y="3070">谈一谈你是怎样想的：</text></g>
<g id="g25"><text class="t"><tspan x="1821" y="2957">(4)小结：刚才大家动脑筋想出了四种不同的</tspan><tspan x="1821" y="2970.5">思考方法，这几种方法都很好。</tspan></text></g>
<g id="g26"><text class="t"><tspan x="1821" y="3015.6">(5)改变题意：一共有13条金鱼，6条黑金鱼</tspan><tspan x="1821" y="3029">，红金鱼有多少条?</tspan></text></g>
<g id="g27"><text class="t" x="1821" y="3176.5">(6)学生独立列式，并说一说思考的过程。</text></g>
<g id="g28"><text class="t" x="2035" y="3072.4">l3—6=7</text></g>
<g id="g29"><text class="t" x="2035" y="3176.5">三、巩固练习</text></g>
<g id="g30"><text class="t" x="2126" y="3124.4">1.完成P14页的“做一做”第1题。</text></g>
<g id="g31"><text class="t"><tspan x="2300" y="3118">让学生口算，全班集体订正，个别题目让学生</tspan><tspan x="2300" y="3131.8">说说思考过程。</tspan></text></g>
<g id="g32"><text class="t" x="2126" y="3176.5">2.做一做第2题。</text></g>
<g id="g33"><text class="t" x="2126" y="3227.2">3、完成P14页“做一做”的第3题。</text></g>
<g id="g34"><text class="t"><tspan x="2309" y="3221.6">学生独立完成，集体订正，提问上下两个□间</tspan><tspan x="2309" y="3235">的关系。</tspan></text></g>
<g id="g35"><text class="t" x="2035" y="3279">四、布置作业。</text></g>
<g id="r6"><rect class="b" x="1452" y="3530" width="215" height="47" rx="4"/><text class="bt"><tspan x="1457" y="3545">新人教版一年级数学下册十几减教</tspan><tspan x="1457" y="3562.4">案范文相关文章：</tspan></text></g>
<g id="h1"><text class="t"><tspan x="1690" y="3324.8">★ 一年级下册十几减9退位减法数学教案202</tspan><tspan x="1690" y="3337.8">1范文</tspan></text></g>
<g id="h2"><text class="t" x="1690" y="3383.3">★ 最新2021人教版一年级数学下册教案范文</text></g>
<g id="h3"><text class="t" x="1690" y="3428">★ 人教版数学一年级下册教案最新范文</text></g>
<g id="h4"><text class="t" x="1690" y="3473">★ 最新人教版一年级下册数学教案文案</text></g>
<g id="h5"><text class="t"><tspan x="1690" y="3518.6">★ 2021最新人教版一年级数学下册找规律教</tspan><tspan x="1690" y="3531.6">案</tspan></text></g>
<g id="h6"><text class="t" x="1690" y="3577">★ 经典一年级数学40减法教案5篇最新</text></g>
<g id="h7"><text class="t" x="1690" y="3621.8">★ 人教版一年级数学下册教案最新模板</text></g>
<g id="h8"><text class="t" x="1690" y="3666.5">★ 人教版一年级数学下册教案设计最新例文</text></g>
<g id="h9"><text class="t"><tspan x="1690" y="3711.6">★ 2021新人教版一年级下册数学全册教案模</tspan><tspan x="1690" y="3724.6">板</tspan></text></g>
<g id="h10"><text class="t"><tspan x="1690" y="3770">★ 人教版一年级数学下册教案及反思最新例</tspan><tspan x="1690" y="3783">文</tspan></text></g>
<g id="watermarks">
<text class="w" transform="rotate(-32 647 515)" x="647" y="515">树图 shutu.cn</text>
<text class="w" transform="rotate(-32 647 1525)" x="647" y="1525">树图 shutu.cn</text>
<text class="w" transform="rotate(-32 647 2515)" x="647" y="2515">树图 shutu.cn</text>
<text class="w" transform="rotate(-32 647 3518)" x="647" y="3518">树图 shutu.cn</text>
<text class="w" transform="rotate(-32 1930 518)" x="1930" y="518">树图 shutu.cn</text>
<text class="w" transform="rotate(-32 1930 1518)" x="1930" y="1518">树图 shutu.cn</text>
<text class="w" transform="rotate(-32 1930 2515)" x="1930" y="2515">树图 shutu.cn</text>
<text class="w" transform="rotate(-32 1930 3518)" x="1930" y="3518">树图 shutu.cn</text>
</g>
</g>
</svg>
